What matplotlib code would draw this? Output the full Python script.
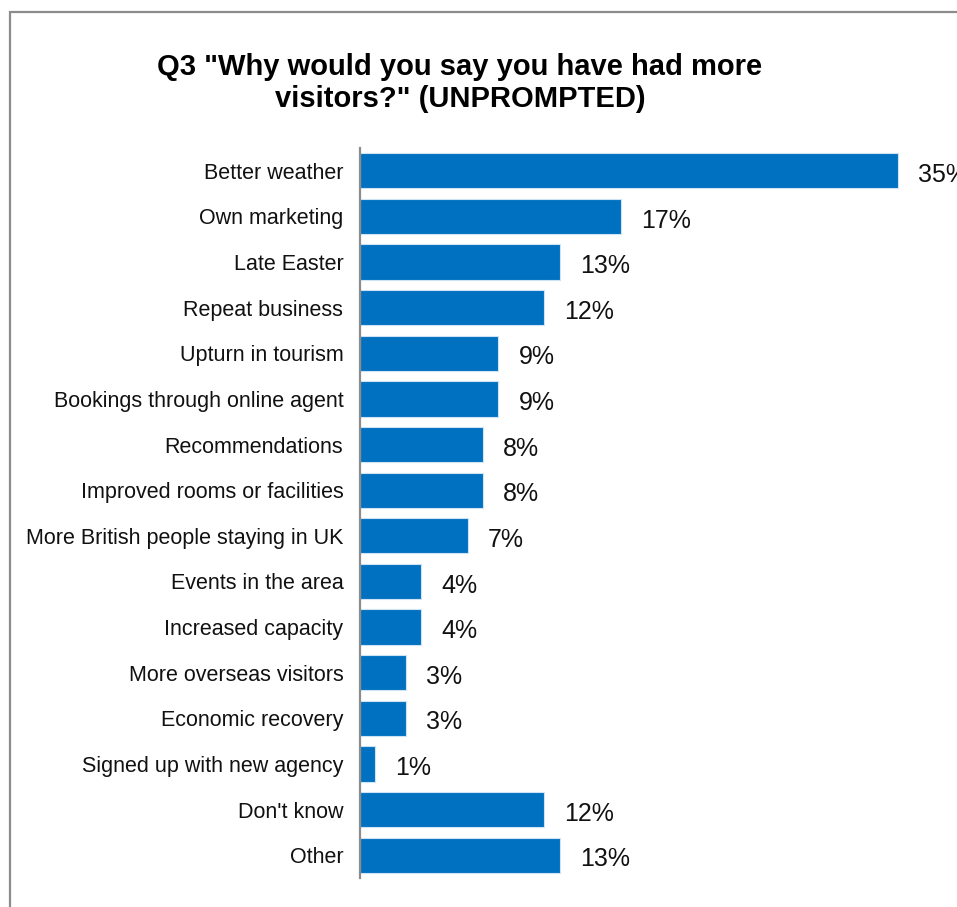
import matplotlib
matplotlib.use("Agg")
import matplotlib.pyplot as plt
from matplotlib.patches import Rectangle

plt.rcParams['font.family'] = ['Liberation Sans', 'DejaVu Sans']

categories = [
    "Better weather",
    "Own marketing",
    "Late Easter",
    "Repeat business",
    "Upturn in tourism",
    "Bookings through online agent",
    "Recommendations",
    "Improved rooms or facilities",
    "More British people staying in UK",
    "Events in the area",
    "Increased capacity",
    "More overseas visitors",
    "Economic recovery",
    "Signed up with new agency",
    "Don't know",
    "Other",
]
values = [35, 17, 13, 12, 9, 9, 8, 8, 7, 4, 4, 3, 3, 1, 12, 13]
title = 'Q3 "Why would you say you have had more\nvisitors?" (UNPROMPTED)'

W, H = 957, 907
fig = plt.figure(figsize=(W / 100, H / 100), dpi=100)

# outer frame (runs off the right and bottom edges)
fig.patches.append(Rectangle((10 / W, -0.05), 1.2, 1 - 12 / H + 0.05,
                             transform=fig.transFigure, fill=False,
                             edgecolor='#8c8c8c', linewidth=1.6))

ax = fig.add_axes([360 / W, 1 - 878 / H, 1 - 360 / W, 730 / H])
ax.set_facecolor('none')

y = list(range(len(categories)))
ax.barh(y, values, height=0.77, color='#0070C0', edgecolor='#cfe3f5',
        linewidth=0.8)
ax.set_ylim(len(categories) - 0.5, -0.5)
ax.set_xlim(0, (W - 360) / 15.37)

ax.set_yticks(y)
ax.set_yticklabels(categories, fontsize=15.5, color='#111111')
ax.tick_params(axis='y', length=0, pad=12)
ax.set_xticks([])

for s in ['top', 'right', 'bottom']:
    ax.spines[s].set_visible(False)
ax.spines['left'].set_color('#8c8c8c')
ax.spines['left'].set_linewidth(1.6)

for yi, v in zip(y, values):
    ax.annotate(f"{v}%", xy=(v, yi), xytext=(14.5, -3), textcoords='offset points',
                ha='left', va='center', fontsize=18, color='#111111',
                annotation_clip=False)

fig.text(460 / W, 1 - 83 / H, title, ha='center', va='center',
         fontsize=21, fontweight='bold', linespacing=1.19)

fig.savefig("out.png", dpi=100)
